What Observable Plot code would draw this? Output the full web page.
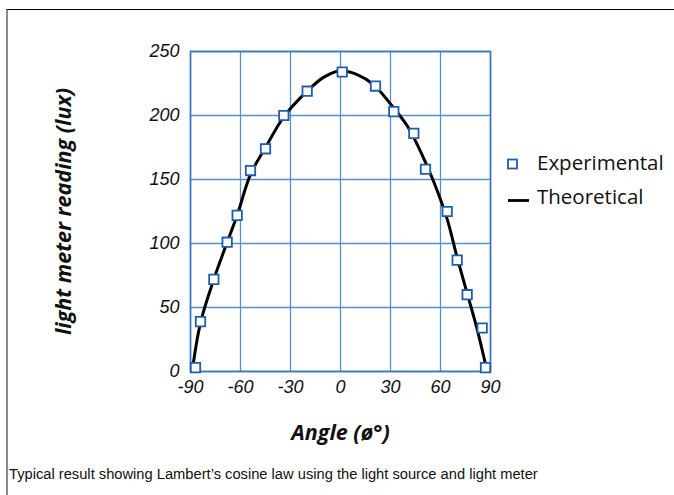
<!DOCTYPE html>
<html>
<head>
<meta charset="utf-8">
<script src="https://cdn.jsdelivr.net/npm/d3@7"></script>
<script src="https://cdn.jsdelivr.net/npm/@observablehq/plot@0.6"></script>
<style>
  html, body { margin: 0; padding: 0; background: #fff; }
  #wrap { position: relative; width: 674px; height: 495px; overflow: hidden; }
  #border { position: absolute; left: 6px; top: 9px; right: -5px; bottom: -5px;
            border-top: 1px solid #000; border-left: 2px solid #8a8a8a; }
  #chart { position: absolute; left: 0; top: 0; }
  #chart g[aria-label="y-axis label"] text,
  #chart g[aria-label="x-axis label"] text { font-family: "Open Sans", "Noto Sans", sans-serif; font-weight: bold; font-style: italic; font-size: 21.5px; fill: #111; }
  #legend { position: absolute; left: 0; top: 0; }
  #legend text { font-family: "Open Sans", "Noto Sans", sans-serif; font-size: 20.5px; fill: #111; }
  #caption { position: absolute; left: 9px; top: 466px; font-family: "Liberation Sans", Arial, sans-serif;
             font-size: 14.7px; color: #111; white-space: nowrap; }
</style>
</head>
<body>
<div id="wrap">
  <div id="border"></div>
  <div id="chart"></div>
  <div id="caption"></div>
</div>
<script>
// ---- data ----
const expAngle = [-87, -84, -76, -68, -62, -54, -45, -34, -20, 1, 21, 32, 44, 51, 64, 70, 76, 85, 87];
const expValue = [3, 39, 72, 101, 122, 157, 174, 200, 219, 234, 223, 203, 186, 158, 125, 87, 60, 34, 3];

const theoAngle = [-89, -84, -76, -68, -62, -54, -45, -34, -20, -10, 0, 10, 20, 30, 40, 48, 56, 64, 70, 76, 82, 88];
const theoValue = [0, 38, 72, 101, 122, 154, 175, 199, 219, 230, 235, 232, 224, 209, 192, 172, 148, 119, 89, 61, 33, 0];

const xTicks = [-90, -60, -30, 0, 30, 60, 90];
const yTicks = [0, 50, 100, 150, 200, 250];

const seriesNames = ["Experimental", "Theoretical"];
const xTitle = "Angle (ø°)";
const yTitle = "light meter reading (lux)";
const captionText = "Typical result showing Lambert’s cosine law using the light source and light meter";

// ---- tables ----
const experimental = expAngle.map((a, i) => ({angle: a, value: expValue[i]}));
const theoretical = theoAngle.map((a, i) => ({angle: a, value: theoValue[i]}));

const gridColor = "#5b8fcb";
const frameColor = "#3a74bc";
const markerColor = "#1f5ea8";
const tickFont = {fontFamily: "Liberation Sans, Arial, sans-serif", fontStyle: "italic", fontSize: 18, fill: "#111"};

const plot = Plot.plot({
  width: 674,
  height: 455,
  marginLeft: 190,
  marginRight: 184,
  marginTop: 51,
  marginBottom: 84,
  x: {domain: [-90, 90]},
  y: {domain: [0, 250]},
  marks: [
    Plot.gridX(xTicks, {stroke: gridColor, strokeOpacity: 1, strokeWidth: 1.3}),
    Plot.gridY(yTicks, {stroke: gridColor, strokeOpacity: 1, strokeWidth: 1.3}),
    Plot.frame({stroke: frameColor, strokeWidth: 1.6}),
    Plot.line(theoretical, {x: "angle", y: "value", stroke: "#000", strokeWidth: 3, curve: "catmull-rom"}),
    Plot.dot(experimental, {x: "angle", y: "value", symbol: "square", r: 5.3, stroke: markerColor, strokeWidth: 1.8, fill: "#fff"}),
    Plot.axisX(xTicks, {...tickFont, tickSize: 0, tickPadding: 9, tickFormat: d => String(d),
      label: xTitle, labelAnchor: "center", labelOffset: 68, labelArrow: "none"}),
    Plot.axisY(yTicks, {...tickFont, tickSize: 0, tickPadding: 11, tickFormat: d => String(d),
      label: yTitle, labelAnchor: "center", labelOffset: 135, labelArrow: "none"})
  ]
});
document.getElementById("chart").appendChild(plot);

// ---- legend ----
const leg = d3.create("svg").attr("id", "legend").attr("width", 674).attr("height", 455);
leg.append("rect").attr("x", 508).attr("y", 159.5).attr("width", 9).attr("height", 9)
  .attr("fill", "#fff").attr("stroke", markerColor).attr("stroke-width", 1.8);
leg.append("text").attr("x", 537).attr("y", 170).text(seriesNames[0]);
leg.append("line").attr("x1", 508).attr("x2", 529).attr("y1", 200.5).attr("y2", 200.5)
  .attr("stroke", "#000").attr("stroke-width", 2.8);
leg.append("text").attr("x", 537).attr("y", 204).text(seriesNames[1]);
document.getElementById("wrap").appendChild(leg.node());

document.getElementById("caption").textContent = captionText;
</script>
</body>
</html>
